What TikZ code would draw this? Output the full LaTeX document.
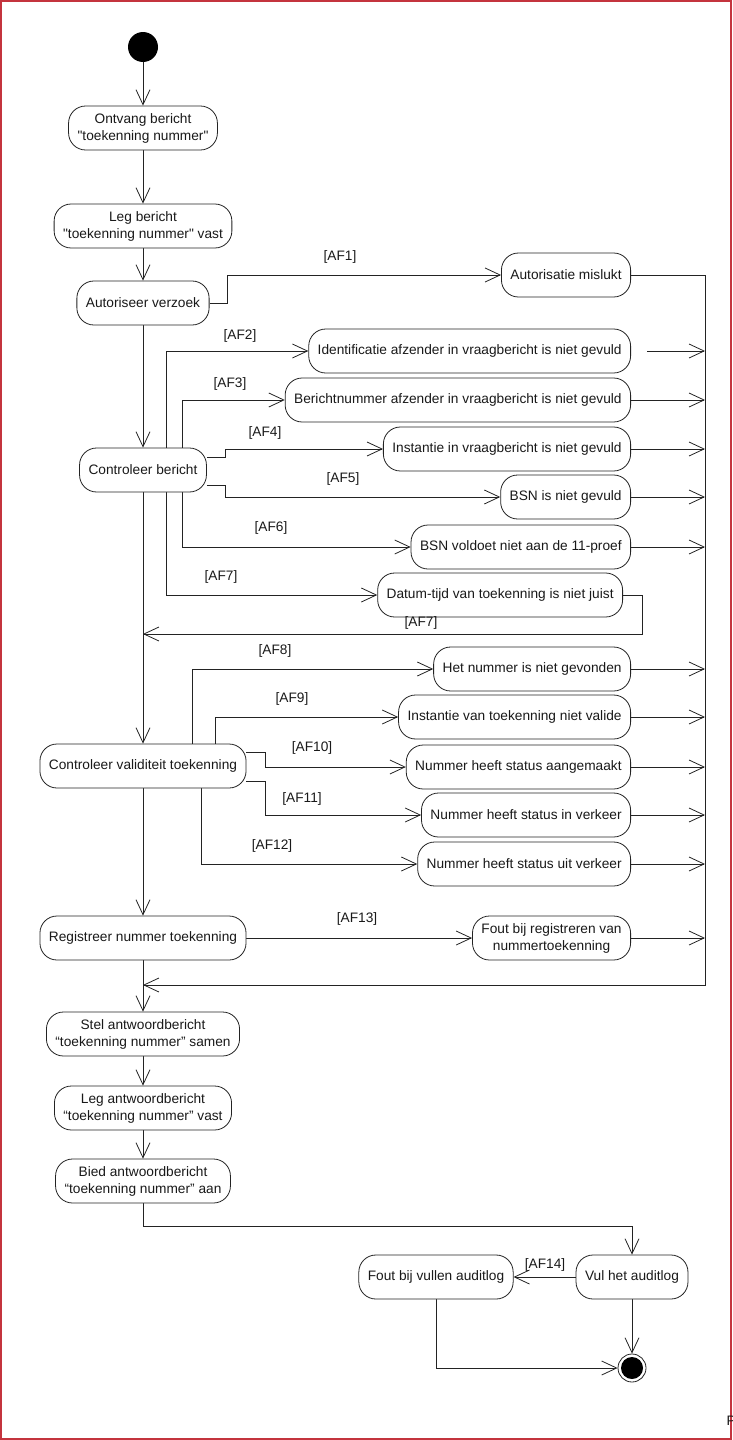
\documentclass[tikz,border=0pt]{standalone}
\usepackage{fontspec}
\setmainfont{Liberation Sans}[Ligatures=TeXOff]
\usetikzlibrary{arrows.meta}
\definecolor{lineGray}{RGB}{35,35,35}
\definecolor{textDark}{RGB}{25,25,25}
\definecolor{frameRed}{RGB}{196,52,62}
\newcommand{\actfont}{\fontsize{13.7}{17}\selectfont}
\pgfdeclarelayer{bg}
\pgfsetlayers{bg,main}

\begin{document}
\begin{tikzpicture}[x=1pt, y=-1pt,
  act/.style={draw=lineGray, line width=0.8pt, fill=white, rounded corners=17pt, minimum height=44pt, inner xsep=9pt, inner ysep=7pt, align=center, font=\actfont, text=textDark},
  guard/.style={font=\actfont, text=textDark, inner sep=1pt},
  flow/.style={draw=lineGray, line width=0.8pt, -{Straight Barb[length=15pt, width=14pt]}},
  wire/.style={draw=lineGray, line width=0.8pt}]
  \useasboundingbox (0,0) rectangle (733,1440);
  \draw[frameRed, line width=1.3pt] (1,1) rectangle (731,1439);
  \node[font=\actfont, text=textDark, anchor=west] (pagemark) at (723,1421) {P};

  \node[circle, fill=black, minimum size=30pt, inner sep=0pt] (start) at (143,47) {};
  \node[act] (ontvang) at (143,128) {Ontvang bericht\\"toekenning nummer"};
  \node[act] (leg) at (143,226) {Leg bericht\\"toekenning nummer" vast};
  \node[act] (autoriseer) at (143,303) {Autoriseer verzoek};
  \node[act, anchor=east] (mislukt) at (631,275) {Autorisatie mislukt};
  \node[act] (controleer) at (143,470) {Controleer bericht};
  \node[act, anchor=east] (identificatie) at (631,351) {Identificatie afzender in vraagbericht is niet gevuld};
  \node[act, anchor=east] (berichtnummer) at (631,400) {Berichtnummer afzender in vraagbericht is niet gevuld};
  \node[act, anchor=east] (instantie) at (631,449) {Instantie in vraagbericht is niet gevuld};
  \node[act, anchor=east] (bsnleeg) at (631,497) {BSN is niet gevuld};
  \node[act, anchor=east] (elfproef) at (631,547) {BSN voldoet niet aan de 11-proef};
  \node[act, anchor=east] (datumtijd) at (623,595) {Datum-tijd van toekenning is niet juist};
  \node[act] (validiteit) at (143,766) {Controleer validiteit toekenning};
  \node[act, anchor=east] (nietgevonden) at (631,669) {Het nummer is niet gevonden};
  \node[act, anchor=east] (nietvalide) at (631,717) {Instantie van toekenning niet valide};
  \node[act, anchor=east] (aangemaakt) at (631,767) {Nummer heeft status aangemaakt};
  \node[act, anchor=east] (inverkeer) at (631,815) {Nummer heeft status in verkeer};
  \node[act, anchor=east] (uitverkeer) at (631,864) {Nummer heeft status uit verkeer};
  \node[act] (registreer) at (143,938) {Registreer nummer toekenning};
  \node[act, anchor=east] (foutreg) at (631,938) {Fout bij registreren van\\nummertoekenning};
  \node[act] (stel) at (143,1034) {Stel antwoordbericht\\“toekenning nummer” samen};
  \node[act] (legantw) at (143,1108) {Leg antwoordbericht\\“toekenning nummer” vast};
  \node[act] (bied) at (143,1181) {Bied antwoordbericht\\“toekenning nummer” aan};
  \node[act] (vul) at (632,1277) {Vul het auditlog};
  \node[act] (foutaudit) at (436,1277) {Fout bij vullen auditlog};
  \node[circle, draw=lineGray, line width=0.8pt, fill=white, minimum size=28pt, inner sep=0pt] (finish) at (632,1368) {};
  \node[circle, fill=black, minimum size=22pt, inner sep=0pt] (finishdot) at (finish) {};

  \coordinate (railbot) at (705,985);
  \coordinate (join) at (143,985);
  \coordinate (ret7) at (143,634);

  \node[guard] (af1) at (340,257) {[AF1]};
  \node[guard] (af2) at (240,336) {[AF2]};
  \node[guard] (af3) at (230,384) {[AF3]};
  \node[guard] (af4) at (265,433) {[AF4]};
  \node[guard] (af5) at (343,479) {[AF5]};
  \node[guard] (af6) at (271,528) {[AF6]};
  \node[guard] (af7) at (221,577) {[AF7]};
  \node[guard] (af7b) at (421,623) {[AF7]};
  \node[guard] (af8) at (275,651) {[AF8]};
  \node[guard] (af9) at (292,699) {[AF9]};
  \node[guard] (af10) at (312,748) {[AF10]};
  \node[guard] (af11) at (302,799) {[AF11]};
  \node[guard] (af12) at (272,846) {[AF12]};
  \node[guard] (af13) at (357,919) {[AF13]};
  \node[guard] (af14) at (545,1265) {[AF14]};

  \begin{pgfonlayer}{bg}
    \draw[flow] (start) -- (ontvang);
    \draw[flow] (ontvang) -- (leg);
    \draw[flow] (leg) -- (autoriseer);
    \draw[flow] (autoriseer) -- (controleer);
    \draw[flow] (controleer) -- (validiteit);
    \draw[flow] (validiteit) -- (registreer);
    \draw[flow] (registreer) -- (stel);
    \draw[flow] (stel) -- (legantw);
    \draw[flow] (legantw) -- (bied);

    \draw[flow] (autoriseer.east) -- ++(18,0) |- (mislukt.west);
    \draw[flow] (mislukt.east) -| (railbot) -- (join);

    \draw[flow] ([xshift=23pt]controleer.center) |- (identificatie.west);
    \draw[flow] ([xshift=39pt]controleer.center) |- (berichtnummer.west);
    \draw[flow] ([yshift=13pt]controleer.east) -- ++(19,0) |- (instantie.west);
    \draw[flow] ([yshift=-15pt]controleer.east) -- ++(19,0) |- (bsnleeg.west);
    \draw[flow] ([xshift=39pt]controleer.center) |- (elfproef.west);
    \draw[flow] ([xshift=23pt]controleer.center) |- (datumtijd.west);
    \draw[flow] (datumtijd.east) -- ++(19,0) |- (ret7);

    \draw[flow] ([xshift=49pt]validiteit.center) |- (nietgevonden.west);
    \draw[flow] ([xshift=72pt]validiteit.center) |- (nietvalide.west);
    \draw[flow] ([yshift=14pt]validiteit.east) -- ++(19,0) |- (aangemaakt.west);
    \draw[flow] ([yshift=-15pt]validiteit.east) -- ++(19,0) |- (inverkeer.west);
    \draw[flow] ([xshift=58pt]validiteit.center) |- (uitverkeer.west);
    \draw[flow] (registreer) -- (foutreg);

    \draw[flow, shorten <=16pt] (identificatie.east) -- (identificatie.east -| railbot);
    \foreach \n in {berichtnummer,instantie,bsnleeg,elfproef,nietgevonden,nietvalide,aangemaakt,inverkeer,uitverkeer,foutreg}
      \draw[flow] (\n.east) -- (\n.east -| railbot);

    \draw[flow] (bied.south) -- ++(0,23) -| (vul.north);
    \draw[flow] (vul) -- (foutaudit);
    \draw[flow] (vul) -- (finish);
    \draw[flow] (foutaudit.south) |- (finish.west);
  \end{pgfonlayer}
\end{tikzpicture}
\end{document}
